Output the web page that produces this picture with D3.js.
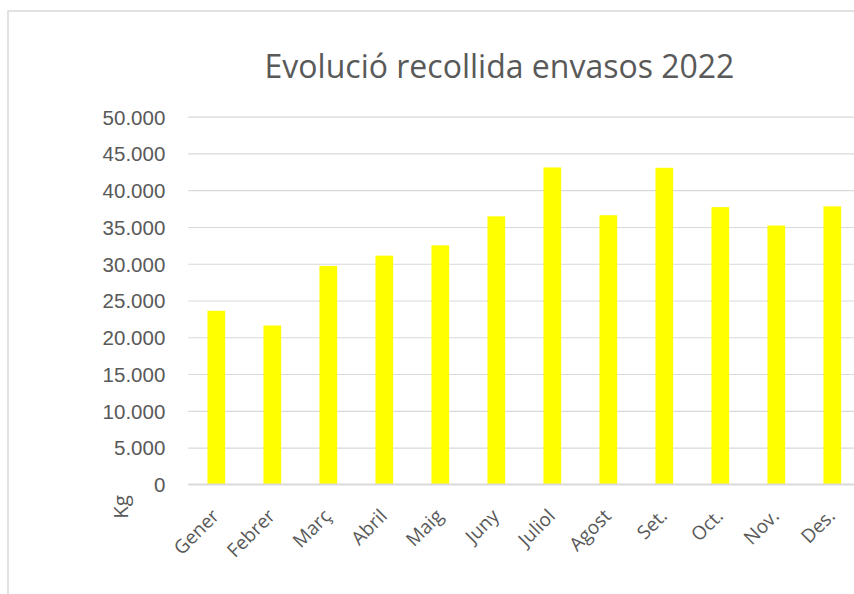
<html lang="ca">
<head>
    <meta charset="UTF-8">
    <script src="https://d3js.org/d3.v7.min.js"></script>
    <title>Evolució recollida envasos 2022</title>
    <style>
        body { margin: 0; background: #fff; }
        svg { display: block; font-family: "Open Sans", Lato, sans-serif; }
    </style>
</head>
<body>
    <section></section>
    <script>
        // dades llegides del gràfic (kg)
        const months = ['Gener', 'Febrer', 'Març', 'Abril', 'Maig', 'Juny', 'Juliol', 'Agost', 'Set.', 'Oct.', 'Nov.', 'Des.'];
        const kg = [23600, 21600, 29700, 31100, 32500, 36450, 43100, 36600, 43050, 37700, 35200, 37800];
        const yTicks = [0, 5000, 10000, 15000, 20000, 25000, 30000, 35000, 40000, 45000, 50000];
        const title = 'Evolució recollida envasos 2022';
        const yLabel = 'Kg';

        const w = 854;
        const h = 594;
        const pLeft = 188.3, pRight = 860.3; // plot runs past the right edge (cropped)
        const pTop = 116.7, pBottom = 484.3;
        const textColor = '#595959';
        const gridColor = '#d9d9d9';

        const fmt = d3.formatLocale({ decimal: ',', thousands: '.', grouping: [3], currency: ['', '€'] }).format(',d');

        const svg = d3.select('section')
            .append('svg')
            .attr('width', w)
            .attr('height', h);

        // chart area border
        svg.append('rect')
            .attr('x', 8)
            .attr('y', 11)
            .attr('width', w + 20)
            .attr('height', h + 20)
            .attr('fill', 'none')
            .attr('stroke', gridColor)
            .attr('stroke-width', 1.5);

        const xScale = d3.scaleBand()
            .domain(months)
            .range([pLeft, pRight])
            .paddingInner(0.684)
            .paddingOuter(0.342);

        const yScale = d3.scaleLinear()
            .domain([0, 50000])
            .range([pBottom, pTop]);

        // gridlines + y labels
        const yAxis = d3.axisLeft(yScale)
            .tickValues(yTicks)
            .tickFormat(fmt)
            .tickSize(-(pRight - pLeft))
            .tickPadding(23);

        svg.append('g')
            .attr('id', 'y-axis')
            .attr('transform', 'translate(' + pLeft + ',0)')
            .call(yAxis)
            .call(g => g.select('.domain').remove())
            .call(g => g.selectAll('line').attr('stroke', gridColor).attr('stroke-width', 1.2))
            .call(g => g.selectAll('text')
                .attr('fill', textColor)
                .style('font-size', '20.5px')
                .attr('dy', '0.36em'));

        svg.selectAll('rect.bar')
            .data(months)
            .enter()
            .append('rect')
            .attr('class', 'bar')
            .attr('x', d => xScale(d))
            .attr('y', (d, i) => yScale(kg[i]))
            .attr('width', xScale.bandwidth())
            .attr('height', (d, i) => yScale(0) - yScale(kg[i]))
            .attr('fill', '#ffff00');

        // category axis line
        svg.append('line')
            .attr('x1', pLeft)
            .attr('x2', pRight)
            .attr('y1', yScale(0))
            .attr('y2', yScale(0))
            .attr('stroke', gridColor)
            .attr('stroke-width', 1.5);

        // rotated month labels
        svg.append('g')
            .selectAll('text')
            .data(months)
            .enter()
            .append('text')
            .attr('text-anchor', 'end')
            .attr('transform', d => 'translate(' + (xScale(d) + xScale.bandwidth() / 2 + 4) + ',' + (yScale(0) + 33) + ') rotate(-45)')
            .attr('fill', textColor)
            .style('font-size', '19px')
            .text(d => d);

        svg.append('text')
            .attr('transform', 'translate(128,507) rotate(-90)')
            .attr('text-anchor', 'middle')
            .attr('fill', textColor)
            .style('font-size', '20.5px')
            .text(yLabel);

        svg.append('text')
            .attr('x', 499.5)
            .attr('y', 78.3)
            .attr('text-anchor', 'middle')
            .attr('fill', textColor)
            .style('font-size', '32px')
            .text(title);
    </script>
</body>
</html>
